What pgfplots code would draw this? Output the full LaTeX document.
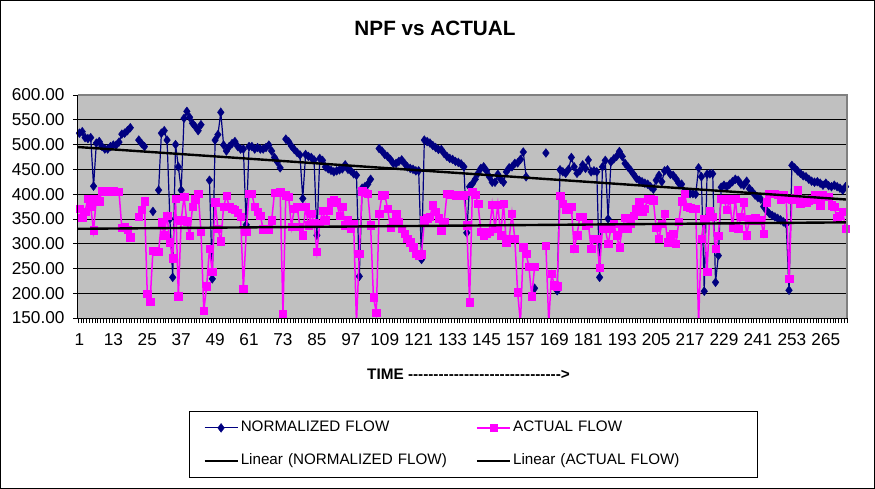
\documentclass[border=0pt]{standalone}
\usepackage{fontspec}
\setmainfont{Liberation Sans}
\usepackage{pgfplots}
\pgfplotsset{compat=1.18}
\usepackage{pgfplotstable}
\definecolor{plotgray}{HTML}{C0C0C0}
\definecolor{navyc}{HTML}{000080}
\definecolor{magc}{HTML}{FF00FF}
\definecolor{bordergray}{HTML}{808080}
\pgfplotstableread{
x nf af
1 523 371
2 526 352
3 514 365
4 512 391
5 514 374
6 416 327
7 503 391
8 506 386
9 496 406
10 491 406
11 491 406
12 496 406
13 499 406
14 499 405
15 505 405
16 521 332
17 523 333
18 528 328
19 534 313
20 nan nan
21 nan nan
22 509 354
23 502 368
24 496 386
25 nan 199
26 nan 183
27 365 286
28 nan 285
29 408 284
30 523 343
31 528 317
32 509 356
33 350 303
34 232 271
35 500 391
36 455 194
37 408 347
38 553 395
39 567 345
40 555 316
41 543 374
42 536 390
43 528 401
44 540 325
45 nan 165
46 nan 214
47 428 290
48 229 243
49 509 384
50 520 330
51 565 305
52 499 374
53 487 397
54 496 374
55 502 370
56 506 368
57 496 362
58 491 354
59 491 209
60 338 324
61 496 401
62 496 401
63 491 374
64 494 365
65 491 357
66 491 329
67 494 329
68 499 329
69 487 347
70 474 403
71 465 403
72 453 405
73 nan 158
74 511 398
75 506 395
76 497 334
77 490 371
78 484 374
79 479 334
80 391 317
81 480 374
82 476 337
83 474 361
84 469 341
85 317 284
86 472 340
87 468 366
88 455 347
89 451 366
90 448 384
91 445 388
92 447 384
93 449 357
94 451 374
95 459 337
96 450 347
97 447 330
98 441 340
99 438 140
100 234 280
101 412 406
102 415 403
103 420 401
104 430 337
105 nan 192
106 nan 161
107 492 361
108 487 398
109 480 399
110 476 371
111 470 332
112 462 344
113 462 361
114 466 344
115 469 330
116 462 320
117 455 310
118 452 303
119 450 293
120 447 280
121 447 276
122 268 279
123 509 347
124 506 351
125 503 354
126 498 378
127 494 365
128 490 351
129 490 327
130 482 344
131 476 401
132 472 400
133 470 399
134 466 398
135 464 397
136 461 397
137 455 398
138 322 337
139 415 182
140 421 405
141 430 399
142 442 381
143 452 324
144 455 317
145 447 320
146 435 324
147 424 379
148 424 330
149 440 379
150 430 317
151 424 381
152 445 303
153 453 310
154 455 361
155 462 310
156 463 202
157 470 140
158 485 293
159 435 280
160 nan 253
161 nan 194
162 210 253
163 nan nan
164 nan nan
165 nan nan
166 483 296
167 nan 140
168 nan 239
169 nan 216
170 205 214
171 449 397
172 445 381
173 442 368
174 450 368
175 474 374
176 455 290
177 442 317
178 447 354
179 459 354
180 452 337
181 469 340
182 445 290
183 447 310
184 445 310
185 232 251
186 455 330
187 468 330
188 350 300
189 465 330
190 471 340
191 476 317
192 486 293
193 476 330
194 462 352
195 455 330
196 448 340
197 440 356
198 432 370
199 428 384
200 425 364
201 422 371
202 420 391
203 415 390
204 410 388
205 428 332
206 438 310
207 425 340
208 447 361
209 449 303
210 440 315
211 438 320
212 431 300
213 422 344
214 420 386
215 405 401
216 402 374
217 401 372
218 401 371
219 400 371
220 453 140
221 435 310
222 204 349
223 440 244
224 441 366
225 441 354
226 222 290
227 276 316
228 414 391
229 418 390
230 415 368
231 420 390
232 425 332
233 430 391
234 428 330
235 420 354
236 418 384
237 426 317
238 411 349
239 405 347
240 398 351
241 393 347
242 390 347
243 375 320
244 367 384
245 361 401
246 357 401
247 354 401
248 351 399
249 348 390
250 344 399
251 340 391
252 206 229
253 458 390
254 453 393
255 447 408
256 442 381
257 437 384
258 435 384
259 430 388
260 426 390
261 424 398
262 425 390
263 422 378
264 418 398
265 422 395
266 417 395
267 415 378
268 418 374
269 415 351
270 412 357
271 408 364
272 415 330
}\flowdata
\begin{document}
\begin{tikzpicture}
\useasboundingbox (-78bp,-171bp) rectangle (797bp,318bp);
\fill[white] (-78bp,-171bp) rectangle (797bp,318bp);
\draw[black, line width=0.8bp] (-77.4bp,-170.4bp) rectangle (796.4bp,317.4bp);
\begin{axis}[
  at={(0bp,0bp)}, anchor=south west,
  scale only axis, width=769bp, height=223bp,
  xmin=0.5, xmax=272.5, ymin=150, ymax=600,
  axis background/.style={fill=plotgray},
  axis line style={draw=none},
  clip mode=individual,
  unbounded coords=jump,
  ytick={150,200,...,600},
  ymajorgrids, grid style={black, line width=0.7bp},
  xtick={1,13,...,265},
  minor xtick={0.5,1.5,...,272.5},
  minor ytick={150,200,...,600},
  major tick length=0bp, minor tick length=5bp,
  minor tick style={black, line width=0.6bp},
  tick align=outside, tick pos=left,
  /pgf/number format/assume math mode=true,
  tick label style={font=\fontsize{17.2bp}{20bp}\selectfont},
  yticklabel style={/pgf/number format/fixed, /pgf/number format/fixed zerofill, /pgf/number format/precision=2, xshift=-10bp},
  xticklabel style={yshift=-12bp},
  legend columns=2,
  legend cell align=left,
  legend image code/.code={\draw[mark repeat=2,mark phase=2,#1] plot coordinates {(0bp,0bp) (16.5bp,0bp) (33bp,0bp)};},
  legend style={at={(0.1443,-0.417)}, anchor=north west, draw=black, line width=0.8bp, fill=white,
    font=\fontsize{15.2bp}{18bp}\selectfont, inner xsep=14bp, inner ysep=0bp,
    nodes={inner xsep=2bp, inner ysep=9.25bp, text height=11bp, text depth=3.5bp, text width=228bp, anchor=west},
    /tikz/every even column/.append style={column sep=5bp}},
]
\addplot[color=navyc, line width=1.2bp, mark=diamond*, mark size=4.4bp, mark options={fill=navyc, draw=navyc, line width=0.4bp}] table[x=x,y=nf] {\flowdata};
\addlegendentry{NORMALIZED FLOW}
\addplot[color=magc, line width=1.5bp, mark=square*, mark size=3.7bp, mark options={fill=magc, draw=magc, line width=0.4bp}] table[x=x,y=af] {\flowdata};
\addlegendentry{ACTUAL FLOW}
\addplot[black, line width=2.4bp] coordinates {(0.5,495) (272.5,389)};
\addlegendentry{Linear (NORMALIZED FLOW)}
\addplot[black, line width=2.4bp] coordinates {(0.5,330) (272.5,343)};
\addlegendentry{Linear (ACTUAL FLOW)}
\draw[bordergray, line width=1.2bp] (rel axis cs:0,1) -- (rel axis cs:1,1) -- (rel axis cs:1,0);
\draw[black, line width=1bp] (rel axis cs:0,1) -- (rel axis cs:0,0) -- (rel axis cs:1,0);
\end{axis}
\def\dsh{-\kern0pt}
\node[font=\bfseries\fontsize{20.7bp}{24bp}\selectfont] at (357bp,290bp) {NPF vs ACTUAL};
\node[font=\bfseries\fontsize{15.3bp}{18bp}\selectfont] at (390.5bp,-56bp) {TIME \dsh\dsh\dsh\dsh\dsh\dsh\dsh\dsh\dsh\dsh\dsh\dsh\dsh\dsh\dsh\dsh\dsh\dsh\dsh\dsh\dsh\dsh\dsh\dsh\dsh\dsh\dsh\dsh\dsh\dsh>};
\end{tikzpicture}
\end{document}
